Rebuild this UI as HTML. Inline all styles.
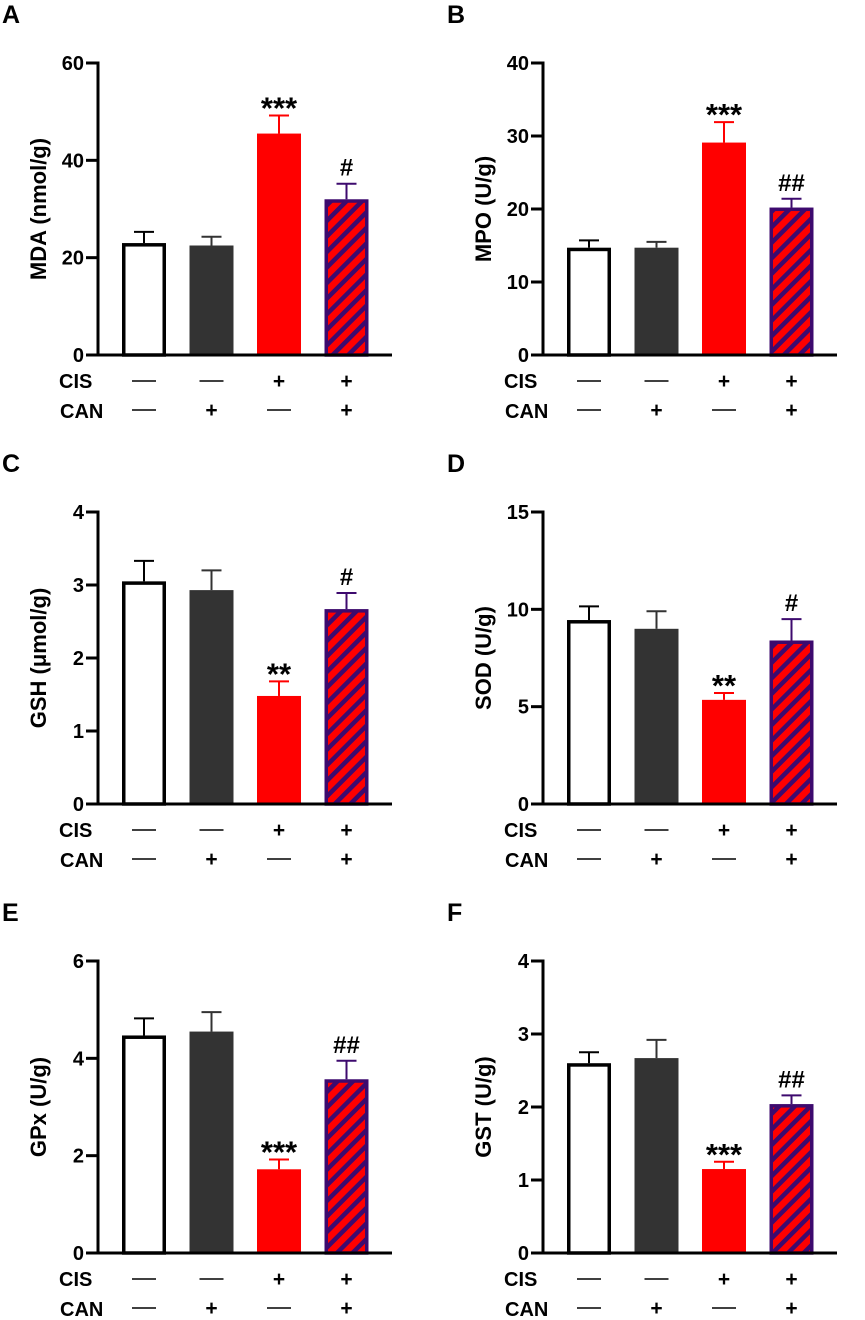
<!DOCTYPE html>
<html><head><meta charset="utf-8">
<style>
html,body{margin:0;padding:0;background:#fff;width:865px;height:1320px;overflow:hidden}
svg text{font-family:"Liberation Sans",sans-serif;font-weight:bold}
</style></head>
<body>
<svg id="fig" width="865" height="1320" viewBox="0 0 865 1320" xmlns="http://www.w3.org/2000/svg">
<defs>
<pattern id="hatch" patternUnits="userSpaceOnUse" width="11" height="11" patternTransform="rotate(-45)">
<rect width="11" height="11" fill="#ff0000"/>
<rect width="11" height="4.5" fill="#3d0a6e"/>
</pattern>
</defs>
</svg>
<script>
const panelLetters=["A","B","C","D","E","F"];
const yTitles=["MDA (nmol/g)","MPO (U/g)","GSH (μmol/g)","SOD (U/g)","GPx (U/g)","GST (U/g)"];
const yMax=[60,40,4,15,6,4];
const yTicks=[[0,20,40,60],[0,10,20,30,40],[0,1,2,3,4],[0,5,10,15],[0,2,4,6],[0,1,2,3,4]];
const valuesA=[23,22.5,45.5,32];const errA=[2.3,1.8,3.7,3.2];
const valuesB=[14.7,14.7,29.1,20.2];const errB=[1.0,0.8,2.8,1.2];
const valuesC=[3.05,2.93,1.48,2.67];const errC=[0.28,0.27,0.2,0.22];
const valuesD=[9.45,9.0,5.35,8.4];const errD=[0.7,0.9,0.35,1.1];
const valuesE=[4.47,4.55,1.72,3.57];const errE=[0.35,0.4,0.2,0.38];
const valuesF=[2.6,2.67,1.15,2.04];const errF=[0.15,0.25,0.1,0.12];
const sigs=[["","","***","#"],["","","***","##"],["","","**","#"],["","","**","#"],["","","***","##"],["","","***","##"]];
const cisRow=["-","-","+","+"];
const canRow=["-","+","-","+"];
const values=[valuesA,valuesB,valuesC,valuesD,valuesE,valuesF];
const errs=[errA,errB,errC,errD,errE,errF];

const svg=document.getElementById('fig');
const NS="http://www.w3.org/2000/svg";
function mk(tag,attrs,parent){const e=document.createElementNS(NS,tag);for(const k in attrs)e.setAttribute(k,attrs[k]);(parent||svg).appendChild(e);return e;}
const fills=["#ffffff","#333333","#ff0000","url(#hatch)"];
const strokes=["#000000","#333333","#ff0000","#3d0a6e"];
const errCol=["#000000","#333333","#ff0000","#3d0a6e"];

function indicator(g,sym,cx,yy,name){
  if(sym=='+'){
    const t=mk('text',{x:cx,y:yy,'font-size':21,'text-anchor':'middle'},g);t.textContent='+';
    
  } else {
    const l=mk('line',{x1:cx-12,y1:yy-7,x2:cx+12,y2:yy-7,stroke:'#000','stroke-width':1.5},g);
    
  }
}

for(let p=0;p<6;p++){
  const ox=(p%2)*445, oy=Math.floor(p/2)*449;
  const g=mk('g',{});
  
  
  const axX=98+ox, top=63+oy, bot=355+oy;
  const y=v=>bot-(v/yMax[p])*(bot-top);
  const L=mk('text',{x:2+ox,y:23+oy,'font-size':25},g);L.textContent=panelLetters[p];
  
  const yt=mk('text',{x:0,y:0,'font-size':22,'text-anchor':'middle',transform:`translate(${46+ox},${(top+bot)/2}) rotate(-90)`},g);
  yt.textContent=yTitles[p];
  
  const ya=mk('line',{x1:axX,y1:top-1.5,x2:axX,y2:bot+1.5,stroke:'#000','stroke-width':3},g);
  
  yTicks[p].forEach(t=>{
    mk('line',{x1:axX-12,y1:y(t),x2:axX,y2:y(t),stroke:'#000','stroke-width':3},g);
    const tl=mk('text',{x:axX-14,y:y(t)+7,'font-size':20,'text-anchor':'end'},g);tl.textContent=t;
    
  });
  for(let i=0;i<4;i++){
    const bx=122+ox+i*67.5, bw=44, cx=bx+bw/2;
    const v=values[p][i], e=errs[p][i];
    mk('line',{x1:cx,y1:y(v),x2:cx,y2:y(v+e),stroke:errCol[i],'stroke-width':2},g);
    mk('line',{x1:cx-10,y1:y(v+e),x2:cx+10,y2:y(v+e),stroke:errCol[i],'stroke-width':2},g);
    const sw=(i==1||i==2)?1:3.5;
    const b=mk('rect',{x:bx+sw/2,y:y(v)+sw/2,width:bw-sw,height:bot-y(v)-sw/2,fill:fills[i],stroke:strokes[i],'stroke-width':sw},g);
    
    if(sigs[p][i]){
      const isStar=sigs[p][i][0]=='*';
      const s=mk('text',{x:cx,y:y(v+e)-(isStar?-3:8),'font-size':isStar?31:24,'text-anchor':'middle'},g);
      s.textContent=sigs[p][i];
      
    }
    indicator(g,cisRow[i],cx,bot+33,'cis-indicator');
    indicator(g,canRow[i],cx,bot+62,'can-indicator');
  }
  const xa=mk('line',{x1:axX-12,y1:bot,x2:392+ox,y2:bot,stroke:'#000','stroke-width':3},g);
  
  const r1=mk('text',{x:59+ox,y:bot+33,'font-size':20},g);r1.textContent="CIS";
  
  const r2=mk('text',{x:60+ox,y:bot+63,'font-size':20},g);r2.textContent="CAN";
  
}
</script>
</body></html>
